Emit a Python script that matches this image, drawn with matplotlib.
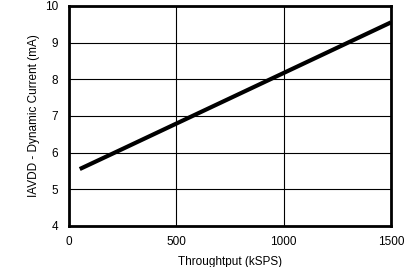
import matplotlib
matplotlib.use('Agg')
import matplotlib.pyplot as plt

# data
throughput = [50, 250, 500, 750, 1000, 1250, 1500]
current = [5.55, 6.10, 6.79, 7.48, 8.17, 8.86, 9.55]

x_ticks = [0, 500, 1000, 1500]
y_ticks = [4, 5, 6, 7, 8, 9, 10]

plt.rcParams['font.family'] = ['Liberation Sans', 'DejaVu Sans']

fig = plt.figure(figsize=(4.06, 2.67), dpi=100)
ax = fig.add_axes([0.170, 0.154, 0.793, 0.824])

ax.plot(throughput, current, color='black', linewidth=3.0, solid_capstyle='butt')

ax.set_xlim(0, 1500)
ax.set_ylim(4, 10)
ax.set_xticks(x_ticks)
ax.set_yticks(y_ticks)
ax.grid(True, color='black', linewidth=0.8)
ax.tick_params(axis='y', length=0, labelsize=8.5, pad=8)
ax.tick_params(axis='x', length=0, labelsize=8.5, pad=7)

for s in ax.spines.values():
    s.set_linewidth(2)

ax.set_xlabel('Throughtput (kSPS)', fontsize=8.5, labelpad=6)
ax.set_ylabel('IAVDD - Dynamic Current (mA)', fontsize=8.5, labelpad=3)

fig.savefig('out.png', dpi=100, facecolor='white')
